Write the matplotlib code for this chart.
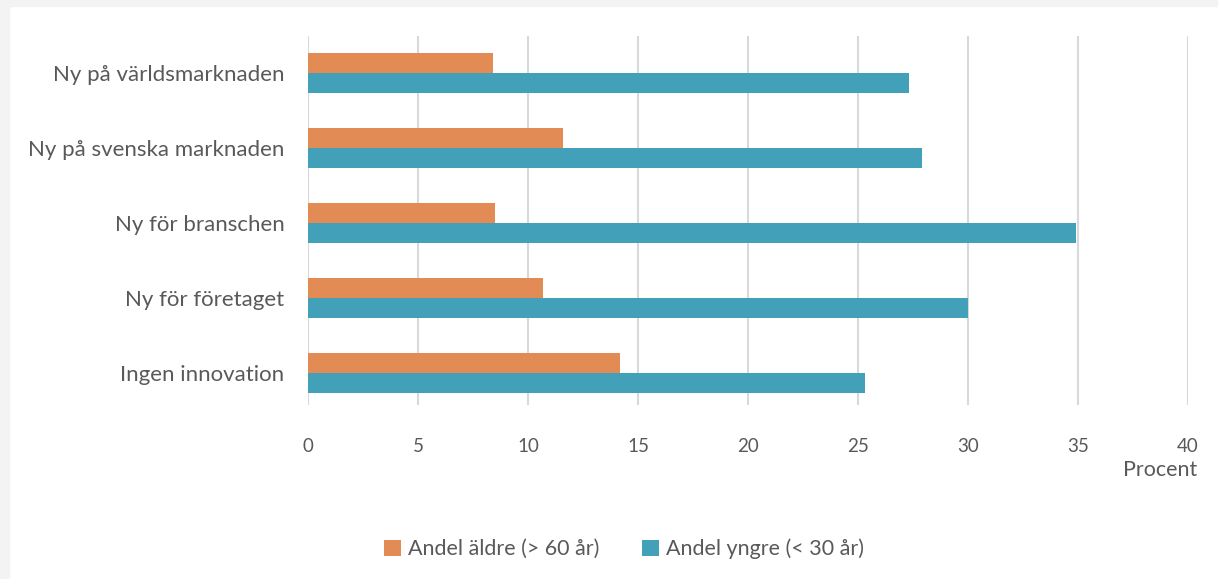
import numpy as np
import matplotlib.pyplot as plt

categories = ['Ny på världsmarknaden', 'Ny på svenska marknaden', 'Ny för branschen',
              'Ny för företaget', 'Ingen innovation']
older = [8.4, 11.6, 8.5, 10.7, 14.2]
younger = [27.3, 27.9, 34.9, 30.0, 25.3]
xticks = [0, 5, 10, 15, 20, 25, 30, 35, 40]

plt.rcParams['font.family'] = ['Lato', 'DejaVu Sans']
textColor = '#595959'

fig = plt.figure(figsize=(12.18, 5.79), dpi=100)
fig.patch.set_facecolor('white')
# light gray frame at top and left
fig.patches.append(plt.Rectangle((0, 1 - 6 / 579), 1, 6 / 579, transform=fig.transFigure,
                                 color='#f3f3f3', zorder=0))
fig.patches.append(plt.Rectangle((0, 0), 9 / 1218, 1, transform=fig.transFigure,
                                 color='#f3f3f3', zorder=0))

ax = fig.add_axes([308 / 1218, 1 - 405 / 579, 880 / 1218, 369 / 579])

y = np.arange(len(categories))
h = 0.265
ax.barh(y - h / 2, older, height=h, color='#E28B55', label='Andel äldre (> 60 år)', zorder=3)
ax.barh(y + h / 2, younger, height=h, color='#43A0B9', label='Andel yngre (< 30 år)', zorder=3)

ax.set_xlim(0, 40)
ax.set_ylim(4.43, -0.49)
ax.set_xticks(xticks)
ax.set_xticklabels([str(t) for t in xticks])
ax.set_yticks(y)
ax.set_yticklabels(categories)
ax.grid(axis='x', color='#d9d9d9', linewidth=1.5, zorder=0)
for s in ax.spines.values():
    s.set_visible(False)
ax.tick_params(axis='x', length=0, pad=24, labelsize=13.5, labelcolor=textColor)
ax.tick_params(axis='y', length=0, pad=17, labelsize=16, labelcolor=textColor)

fig.text(1160 / 1218, 1 - 470 / 579, 'Procent', ha='center', va='center',
         fontsize=15.5, color=textColor)

leg = fig.legend(loc='center', bbox_to_anchor=(624 / 1218, 1 - 549 / 579), ncol=2,
                 frameon=False, fontsize=15.5, handlelength=0.8, handleheight=0.8,
                 handletextpad=0.3, columnspacing=2.0)
for t in leg.get_texts():
    t.set_color(textColor)

fig.savefig('out.png', dpi=100)
